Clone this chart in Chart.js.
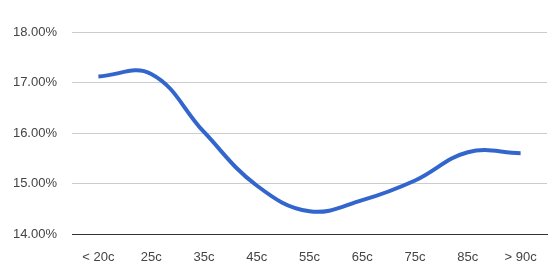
<!DOCTYPE html>
<html>
<head>
<meta charset="utf-8">
<script src="https://cdn.jsdelivr.net/npm/chart.js@4"></script>
<style>
  html, body { margin: 0; padding: 0; background: #fff; }
  #wrap { width: 560px; height: 280px; position: relative; }
</style>
</head>
<body>
<div id="wrap"><canvas id="rateChart"></canvas></div>
<script>
const categories = ['< 20c', '25c', '35c', '45c', '55c', '65c', '75c', '85c', '> 90c'];
const rates = [17.12, 17.17, 16.02, 14.96, 14.45, 14.67, 15.06, 15.62, 15.60];
const yMin = 14;
const yMax = 18;

const ctx = document.getElementById('rateChart').getContext('2d');

new Chart(ctx, {
    type: 'line',
    data: {
        labels: categories,
        datasets: [{
            data: rates,
            borderColor: '#3366cc',
            borderWidth: 4,
            tension: 0.4,
            pointRadius: 0,
            fill: false
        }]
    },
    options: {
        responsive: true,
        maintainAspectRatio: false,
        animation: false,
        layout: { padding: { top: 32, right: 13, left: 0, bottom: 0 } },
        plugins: {
            legend: { display: false },
            tooltip: { enabled: false }
        },
        scales: {
            x: {
                offset: true,
                grid: { display: false },
                border: { color: '#333', width: 1 },
                ticks: {
                    color: '#444',
                    padding: 8,
                    maxRotation: 0,
                    font: { family: 'Liberation Sans', size: 13 }
                },
                afterFit: (s) => { s.height = 46; }
            },
            y: {
                min: yMin,
                max: yMax,
                grid: { color: '#cccccc', drawTicks: false },
                border: { display: false },
                ticks: {
                    stepSize: 1,
                    color: '#444',
                    padding: 15,
                    font: { family: 'Liberation Sans', size: 13 },
                    callback: (v) => v.toFixed(2) + '%'
                },
                afterFit: (s) => { s.width = 72; }
            }
        }
    }
});
</script>
</body>
</html>
